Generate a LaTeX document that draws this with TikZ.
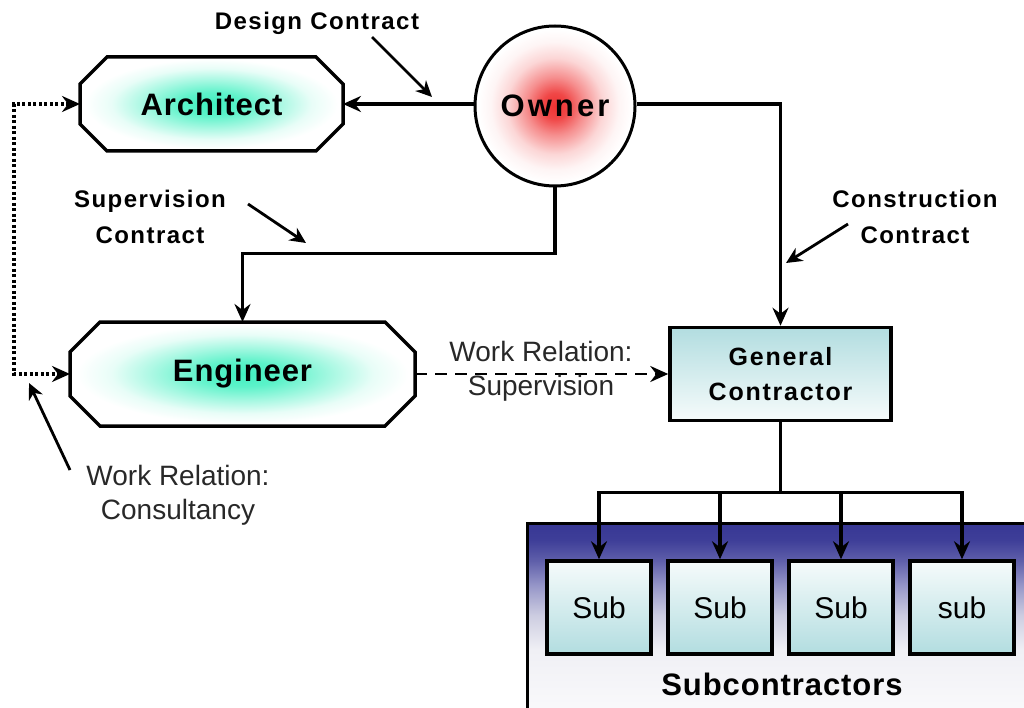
\documentclass[tikz,border=0pt]{standalone}
\usepackage{fontspec}
\setmainfont{Liberation Sans}
\newfontfamily\tagfont[LetterSpace=6]{Liberation Sans}
\newfontfamily\headfont[LetterSpace=3]{Liberation Sans}
\newfontfamily\ownerfont[LetterSpace=10]{Liberation Sans}
\newfontfamily\gcfont[LetterSpace=7]{Liberation Sans}
\usetikzlibrary{arrows.meta,calc,backgrounds}

\definecolor{glowaqua}{RGB}{64,240,192}
\definecolor{ownred}{RGB}{238,50,50}
\definecolor{tealpale}{RGB}{178,221,224}
\definecolor{tealwhite}{RGB}{246,251,251}
\definecolor{notegray}{RGB}{40,40,40}
\definecolor{pbA}{RGB}{55,55,148}
\definecolor{pbB}{RGB}{62,62,152}
\definecolor{pbC}{RGB}{95,95,170}
\definecolor{pbD}{RGB}{150,150,200}
\definecolor{pbE}{RGB}{205,205,225}
\definecolor{pbF}{RGB}{240,240,245}
\definecolor{pbG}{RGB}{249,249,251}

% glows and gradients (the middle 50bp of each shading fills the path)
\pgfdeclareradialshading{aquaglow}{\pgfpoint{0bp}{0bp}}{%
  color(0bp)=(glowaqua); color(6bp)=(glowaqua!85!white);
  color(13bp)=(glowaqua!45!white); color(19bp)=(glowaqua!12!white);
  color(24bp)=(white); color(50bp)=(white)}
\pgfdeclareradialshading{redglow}{\pgfpoint{0bp}{0bp}}{%
  color(0bp)=(ownred); color(4bp)=(ownred!90!white);
  color(9bp)=(ownred!55!white); color(15bp)=(ownred!20!white);
  color(20bp)=(ownred!5!white); color(24bp)=(white); color(50bp)=(white)}
\pgfdeclareverticalshading{gcfill}{100bp}{%
  color(0bp)=(tealwhite); color(25bp)=(tealwhite);
  color(75bp)=(tealpale); color(100bp)=(tealpale)}
\pgfdeclareverticalshading{subfill}{100bp}{%
  color(0bp)=(tealpale); color(25bp)=(tealpale);
  color(75bp)=(tealwhite); color(100bp)=(tealwhite)}
\pgfdeclareverticalshading{panelfill}{100bp}{%
  color(0bp)=(pbG); color(25bp)=(pbG); color(41.5bp)=(pbF);
  color(50.5bp)=(pbE); color(58.5bp)=(pbD); color(65bp)=(pbC);
  color(70.5bp)=(pbB); color(75bp)=(pbA); color(100bp)=(pbA)}

% chamfered outline drawn around a named node
\newcommand{\octframe}[3]{%
  \shadedraw[shading=#3, line width=3.5pt, line join=miter]
    ($(#1.north west)+(#2,0)$) -- ($(#1.north east)+(-#2,0)$) --
    ($(#1.north east)+(0,#2)$) -- ($(#1.south east)+(0,-#2)$) --
    ($(#1.south east)+(-#2,0)$) -- ($(#1.south west)+(#2,0)$) --
    ($(#1.south west)+(0,-#2)$) -- ($(#1.north west)+(0,#2)$) -- cycle;}

\begin{document}
\begin{tikzpicture}[x=1pt, y=-1pt,
  bigtip/.tip={Stealth[length=18pt,width=16pt,inset=6pt]},
  smalltip/.tip={Stealth[length=16pt,width=15pt,inset=5pt]},
  conn/.style={line width=3.2pt, -bigtip},
  dashconn/.style={line width=2.8pt, dash pattern=on 12pt off 8pt, -bigtip},
  dotconn/.style={line width=3.2pt, dash pattern=on 3pt off 2.5pt, bigtip-bigtip},
  ptr/.style={line width=2.8pt, -smalltip},
  octnode/.style={rectangle, inner sep=0pt, outer sep=0pt,
    font=\headfont\fontsize{31}{36}\selectfont\bfseries},
  owner/.style={circle, draw, shade, shading=redglow, line width=3pt,
    minimum size=160pt, inner sep=0pt,
    font=\ownerfont\fontsize{31}{36}\selectfont\bfseries},
  gcbox/.style={rectangle, draw, shade, shading=gcfill, line width=3.5pt,
    minimum width=221pt, minimum height=93pt, align=center,
    font=\gcfont\fontsize{25}{35}\selectfont\bfseries},
  subbox/.style={rectangle, draw, shade, shading=subfill, line width=3.5pt,
    minimum width=104pt, minimum height=93pt,
    font=\fontsize{30}{36}\selectfont},
  tag/.style={inner sep=0pt, align=center,
    font=\tagfont\fontsize{24}{36}\selectfont\bfseries},
  note/.style={inner sep=0pt, align=center, text=notegray,
    font=\fontsize{28}{34}\selectfont},
  paneltitle/.style={inner sep=0pt,
    font=\headfont\fontsize{31}{36}\selectfont\bfseries}]

\useasboundingbox (0,0) rectangle (1024,708);
\clip (0,0) rectangle (1024,708);

% subcontractor panel
\shade[shading=panelfill] (527,523) rectangle (1030,712);
\draw[line width=3pt] (527,715) -- (527,523) -- (1030,523);

% main parties
\node[octnode, minimum width=263pt, minimum height=94pt] (arch) at (211.5,104) {Architect};
\node[octnode, minimum width=345pt, minimum height=104pt] (eng) at (242.5,374) {Engineer};
\begin{scope}[on background layer]
  \octframe{arch}{27}{aquaglow}
  \octframe{eng}{30}{aquaglow}
\end{scope}
\node[owner] (own) at (555,106) {Owner};
\node[gcbox] (gc) at (780.5,374) {General\\Contractor};

% subcontractors
\node[subbox] (s1) at (599,607.5) {Sub};
\node[subbox] (s2) at (720,607.5) {Sub};
\node[subbox] (s3) at (841,607.5) {Sub};
\node[subbox] (s4) at (962,607.5) {sub};
\node[paneltitle, anchor=base] (ptitle) at (782,695) {Subcontractors};

% contracts
\draw[conn] (own.west |- arch.east) -- (arch.east);
\draw[conn] (own.east |- arch.east) -| (gc.north);
\draw[conn] (own.south) -- ++(0,66) -| (eng.north);

% work relations
\coordinate (dleft) at (14,104);
\draw[dotconn] (arch.west) -- (dleft) |- (eng.west);
\draw[dashconn] (eng.east) -- (gc.west);

% general contractor to subcontractors
\foreach \s in {s1,s2,s3,s4}
  \draw[conn] (gc.south) -- ++(0,70) -| (\s.north);

% labels
\node[tag, anchor=base] (ldesign) at (317,30) {Design Contract};
\node[tag] (lsuper) at (150,217) {Supervision\\Contract};
\node[tag] (lconstr) at (915,217) {Construction\\Contract};
\node[note] (lconsult) at (178,495) {Work Relation:\\Consultancy};
\node[note] (lsupwork) at (541,371) {Work Relation:\\Supervision};

% label pointers
\coordinate (pa1) at (372,37);  \coordinate (pa2) at (432,97);
\coordinate (pb1) at (248,204); \coordinate (pb2) at (306,243);
\coordinate (pc1) at (848,224); \coordinate (pc2) at (786,263);
\coordinate (pd1) at (70,470);  \coordinate (pd2) at (29,383);
\draw[ptr] (pa1) -- (pa2);
\draw[ptr] (pb1) -- (pb2);
\draw[ptr] (pc1) -- (pc2);
\draw[ptr] (pd1) -- (pd2);

\end{tikzpicture}
\end{document}
